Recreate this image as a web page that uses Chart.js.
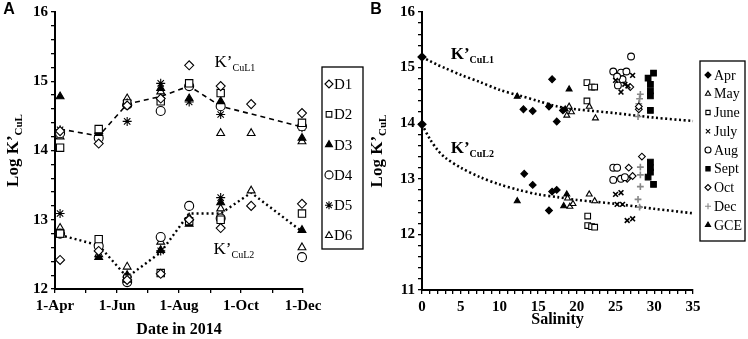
<!DOCTYPE html>
<html lang="en">
<head>
<meta charset="UTF-8">
<title>Log K'CuL by date and salinity</title>
<script src="https://cdn.jsdelivr.net/npm/chart.js"></script>
<style>
  body { margin: 0; background: #fff; }
  .wrap { position: relative; width: 748px; height: 339px; }
  #chartA { position: absolute; left: 0; top: 0; }
  #chartB { position: absolute; left: 366px; top: 0; }
</style>
</head>
<body>
<div class="wrap">
  <canvas id="chartA" width="366" height="339"></canvas>
  <canvas id="chartB" width="382" height="339"></canvas>
</div>
<script>
// ---- Panel A: sampling dates (days after 1 April 2014) ----
const sampleDays = [5, 43, 71, 104, 132, 163, 193, 243];
const monthTicks = [0, 30, 61, 91, 122, 153, 183, 214, 244];
const monthLabels = ['1-Apr', '', '1-Jun', '', '1-Aug', '', '1-Oct', '', '1-Dec'];
const depthNames = ['D1', 'D2', 'D3', 'D4', 'D5', 'D6'];

// log K'CuL1 per depth
const L1_D1 = [14.28, 14.10, 14.65, 14.75, 15.23, 14.93, 14.67, 14.54];
const L1_D2 = [14.04, 14.31, 14.68, 14.71, 14.97, 14.83, null, 14.40];
const L1_D3 = [14.78, 14.25, 14.68, 14.90, 14.75, 14.71, null, 14.18];
const L1_D4 = [14.25, 14.18, 14.66, 14.57, 14.93, 14.64, null, 14.35];
const L1_D5 = [14.30, 14.22, 14.42, 14.97, 14.70, 14.52, null, 14.33];
const L1_D6 = [14.20, 14.28, 14.75, 14.85, 14.95, 14.25, 14.25, 14.13];
// log K'CuL2 per depth
const L2_D1 = [12.42, 12.55, 12.13, 12.22, 13.00, 12.88, 13.20, 13.23];
const L2_D2 = [12.80, 12.72, 12.15, 12.23, 12.98, 13.00, null, 13.09];
const L2_D3 = [12.78, 12.46, 12.20, 12.56, 12.94, 13.25, null, 12.85];
const L2_D4 = [12.80, 12.62, 12.10, 12.75, 13.20, 13.02, null, 12.46];
const L2_D5 = [13.09, 12.65, 12.18, 12.55, 13.20, 13.32, null, 12.46];
const L2_D6 = [12.88, 12.50, 12.32, 12.68, 13.03, 13.16, 13.42, 12.60];

// trend lines
const meanL1Days = [5, 43, 71, 104, 132, 163, 243];
const meanL1 = [14.31, 14.21, 14.67, 14.78, 14.93, 14.64, 14.34];
const meanL2 = [12.78, 12.63, 12.17, 12.53, 13.09, 13.09, 13.39, 12.83];

// ---- Panel B: salinity vs log K' ----
const aprSal = [13.1, 14.3, 16.8, 16.4, 17.4, 18.2, 13.2, 14.3, 16.8, 17.4, 16.4];
const aprK   = [14.25, 14.22, 14.79, 14.30, 14.03, 14.23, 13.09, 12.89, 12.77, 12.80, 12.43];
const maySal = [19.0, 18.7, 19.3, 21.6, 22.4, 18.8, 19.1, 19.5, 21.6, 22.3];
const mayK   = [14.30, 14.14, 14.20, 14.30, 14.09, 12.65, 12.50, 12.55, 12.72, 12.60];
const junSal = [21.3, 21.9, 22.3, 21.3, 21.4, 21.4, 21.9, 22.3];
const junK   = [14.73, 14.65, 14.65, 14.40, 12.33, 12.16, 12.14, 12.13];
const julSal = [27.2, 25.7, 26.2, 25.0, 26.6, 25.0, 25.7, 25.2, 25.9, 26.5, 27.2];
const julK   = [14.86, 14.56, 14.70, 14.77, 14.67, 12.72, 12.75, 12.54, 12.54, 12.25, 12.28];
const augSal = [27.0, 24.7, 25.7, 26.4, 25.3, 25.9, 25.2, 24.7, 25.2, 24.7, 25.7, 26.2];
const augK   = [15.20, 14.93, 14.91, 14.93, 14.68, 14.79, 14.84, 13.20, 13.20, 12.98, 13.00, 13.03];
const sepSal = [29.9, 29.2, 29.5, 29.5, 29.5, 29.5, 29.5, 29.5, 29.5, 29.2, 29.9];
const sepK   = [14.90, 14.81, 14.70, 14.58, 14.49, 14.23, 13.30, 13.20, 13.12, 13.03, 12.90];
const octSal = [26.9, 28.0, 28.0, 26.7, 28.4, 27.2, 26.5];
const octK   = [14.65, 14.25, 14.30, 13.20, 13.40, 13.05, 13.00];
const decSal = [28.2, 28.1, 28.0, 27.9, 28.2, 28.2, 28.2, 27.9, 28.1];
const decK   = [14.52, 14.44, 14.35, 14.12, 13.21, 13.07, 12.86, 12.63, 12.49];
const gceSal = [12.3, 19.0, 18.5, 12.3, 18.3, 18.7];
const gceK   = [14.48, 14.61, 14.25, 12.60, 12.51, 12.72];

// fitted curves
const curveSal = [0, 1, 2, 3, 5, 7.5, 10, 12.5, 15, 17.5, 20, 25, 30, 35];
const fitL1 = [15.19, 15.12, 15.05, 14.99, 14.87, 14.74, 14.60, 14.50, 14.40, 14.30, 14.25, 14.18, 14.10, 14.04];
const fitL2 = [13.98, 13.72, 13.52, 13.38, 13.20, 13.03, 12.90, 12.80, 12.72, 12.67, 12.62, 12.55, 12.46, 12.38];

const serif = '"Liberation Serif", "Times New Roman", serif';
const tickFont = { family: serif, size: 15, weight: 'bold' };

function zipXY(xs, ys) {
  return xs.map((x, i) => ({ x: x, y: ys[i] })).filter(p => p.y !== null);
}

// legend with a frame, drawn from the datasets flagged inLegend
const boxLegend = {
  id: 'boxLegend',
  afterDraw(chart, args, o) {
    const ctx = chart.ctx;
    const items = chart.data.datasets.filter(d => d.inLegend);
    ctx.save();
    ctx.strokeStyle = '#000';
    ctx.lineWidth = 1.3;
    ctx.strokeRect(o.x, o.y, o.w, o.h);
    items.forEach((d, i) => {
      const cy = o.first + i * o.gap;
      ctx.strokeStyle = d.borderColor;
      ctx.fillStyle = d.backgroundColor;
      ctx.lineWidth = 1.1;
      Chart.helpers.drawPoint(ctx, { pointStyle: d.pointStyle, radius: o.radius, borderWidth: 1.1, rotation: 0 }, o.x + o.px, cy);
      ctx.fillStyle = '#000';
      ctx.font = o.font;
      ctx.textBaseline = 'middle';
      ctx.textAlign = 'left';
      ctx.fillText(d.label, o.x + o.tx, cy + 1);
    });
    ctx.restore();
  }
};

function drawSub(ctx, x, y, main, sub, mainFont, subFont, drop) {
  ctx.font = mainFont;
  const w1 = ctx.measureText(main).width;
  ctx.font = subFont;
  const w2 = ctx.measureText(sub).width;
  const x0 = x - (w1 + w2) / 2;
  ctx.textAlign = 'left';
  ctx.textBaseline = 'alphabetic';
  ctx.font = mainFont;
  ctx.fillText(main, x0, y);
  ctx.font = subFont;
  ctx.fillText(sub, x0 + w1, y + drop);
}

// K' labels inside the plot, axis titles and panel letter
const texts = {
  id: 'texts',
  afterDraw(chart, args, o) {
    const ctx = chart.ctx;
    const a = chart.chartArea;
    ctx.save();
    ctx.fillStyle = '#000';
    o.inPlot.forEach(t => {
      const x = chart.scales.x.getPixelForValue(t.at[0]);
      const y = chart.scales.y.getPixelForValue(t.at[1]);
      drawSub(ctx, x, y, 'K\u2019', t.sub, o.labelWeight + ' 17px ' + serif, o.labelWeight + ' 10px ' + serif, 4);
    });
    // y title
    ctx.save();
    ctx.translate(o.yTitleX, (a.top + a.bottom) / 2);
    ctx.rotate(-Math.PI / 2);
    drawSub(ctx, 0, 6, 'Log K\u2019', 'CuL', 'bold 17px ' + serif, 'bold 11px ' + serif, 4);
    ctx.restore();
    // x title
    ctx.font = 'bold 16px ' + serif;
    ctx.textAlign = 'center';
    ctx.textBaseline = 'middle';
    ctx.fillText(o.xTitle, (a.left + a.right) / 2, o.xTitleY);
    // panel letter
    ctx.font = 'bold 16px "Liberation Sans", Arial, sans-serif';
    ctx.fillText(o.letter, o.letterX, 10);
    ctx.restore();
  }
};

function yTicks(min, max) {
  return {
    min: min, max: max,
    afterFit: s => { s.width = s.chart.canvas.id === 'chartA' ? 55 : 56; },
    ticks: {
      stepSize: 0.2, autoSkip: false, color: '#000', font: tickFont, padding: 3,
      callback: v => Math.abs(v - Math.round(v)) < 1e-6 ? Math.round(v) : ''
    },
    grid: { drawOnChartArea: false, tickLength: 4, color: '#000', lineWidth: 1.3 },
    border: { color: '#000', width: 2 }
  };
}

// ---- chart A ----
const depthL1 = [L1_D1, L1_D2, L1_D3, L1_D4, L1_D5, L1_D6];
const depthL2 = [L2_D1, L2_D2, L2_D3, L2_D4, L2_D5, L2_D6];
const depthStyle = [
  ['rectRot', '#fff'], ['rect', '#fff'], ['triangle', '#000'],
  ['circle', '#fff'], ['star', '#000'], ['triangle', '#fff']
];
const setsA = depthNames.map((name, k) => ({
  label: name,
  inLegend: true,
  data: zipXY(sampleDays, depthL1[k]).concat(zipXY(sampleDays, depthL2[k])),
  pointStyle: depthStyle[k][0],
  backgroundColor: depthStyle[k][1],
  borderColor: '#000',
  pointRadius: depthStyle[k][0] === 'rect' ? 5.2 : 4.5,
  borderWidth: 1.1,
  showLine: false,
  clip: false
}));
setsA.push({
  label: 'mean L1', data: zipXY(meanL1Days, meanL1), showLine: true, pointRadius: 0,
  borderColor: '#000', borderWidth: 1.6, borderDash: [5, 4], order: 10, clip: false
});
setsA.push({
  label: 'mean L2', data: zipXY(sampleDays, meanL2), showLine: true, pointRadius: 0,
  borderColor: '#000', borderWidth: 2.4, borderDash: [2, 3], order: 10, clip: false
});

new Chart(document.getElementById('chartA'), {
  type: 'scatter',
  data: { datasets: setsA },
  plugins: [boxLegend, texts],
  options: {
    responsive: false,
    animation: false,
    layout: { padding: { top: 10, right: 63, bottom: 0, left: 0 } },
    plugins: {
      legend: { display: false },
      tooltip: { enabled: false },
      boxLegend: { x: 322, y: 67, w: 41, h: 182, first: 84, gap: 30.3, px: 7, tx: 12, radius: 4, font: '15px ' + serif },
      texts: {
        inPlot: [{ at: [177, 15.2], sub: 'CuL1' }, { at: [176, 12.5], sub: 'CuL2' }],
        labelWeight: 'normal',
        yTitleX: 12, xTitle: 'Date in 2014', xTitleY: 330, letter: 'A', letterX: 9
      }
    },
    scales: {
      x: {
        type: 'linear', min: 0, max: 244,
        afterBuildTicks: s => { s.ticks = monthTicks.map(v => ({ value: v })); },
        afterFit: s => { s.height = 50; },
        ticks: { autoSkip: false, maxRotation: 0, color: '#000', font: tickFont, padding: 4,
                 callback: (v, i) => monthLabels[i] },
        grid: { drawOnChartArea: false, tickLength: 4, color: '#000', lineWidth: 1.3 },
        border: { color: '#000', width: 2 }
      },
      y: yTicks(12, 16)
    }
  }
});

// ---- chart B ----
const monthSets = [
  ['Apr', aprSal, aprK, 'rectRot', '#000', '#000'],
  ['May', maySal, mayK, 'triangle', '#fff', '#000'],
  ['June', junSal, junK, 'rect', '#fff', '#000'],
  ['July', julSal, julK, 'crossRot', '#000', '#000'],
  ['Aug', augSal, augK, 'circle', '#fff', '#000'],
  ['Sept', sepSal, sepK, 'rect', '#000', '#000'],
  ['Oct', octSal, octK, 'rectRot', '#fff', '#000'],
  ['Dec', decSal, decK, 'cross', '#888', '#888'],
  ['GCE', gceSal, gceK, 'triangle', '#000', '#000']
];
const setsB = monthSets.map(m => ({
  label: m[0],
  inLegend: true,
  data: zipXY(m[1], m[2]),
  pointStyle: m[3],
  backgroundColor: m[4],
  borderColor: m[5],
  pointRadius: m[3] === 'rect' ? 4 : 3.4,
  borderWidth: m[3].startsWith('cross') ? 1.6 : 1.1,
  showLine: false,
  clip: false
}));
[fitL1, fitL2].forEach((fit, k) => setsB.push({
  label: 'fit L' + (k + 1), data: zipXY(curveSal, fit), showLine: true,
  pointStyle: 'rectRot', backgroundColor: '#000', borderColor: '#000',
  pointRadius: c => c.dataIndex === 0 ? 3 : 0,
  borderWidth: 2.6, borderDash: [2, 2.6], order: 10, clip: false, tension: 0.3
}));

new Chart(document.getElementById('chartB'), {
  type: 'scatter',
  data: { datasets: setsB },
  plugins: [boxLegend, texts],
  options: {
    responsive: false,
    animation: false,
    layout: { padding: { top: 10, right: 55, bottom: 0, left: 0 } },
    plugins: {
      legend: { display: false },
      tooltip: { enabled: false },
      boxLegend: { x: 334, y: 61, w: 45, h: 180, first: 75, gap: 18.75, px: 8, tx: 14, radius: 3, font: '14px ' + serif },
      texts: {
        inPlot: [{ at: [6.5, 15.15], sub: 'CuL1' }, { at: [6.5, 13.47], sub: 'CuL2' }],
        labelWeight: 'bold',
        yTitleX: 10, xTitle: 'Salinity', xTitleY: 320, letter: 'B', letterX: 10
      }
    },
    scales: {
      x: {
        type: 'linear', min: 0, max: 35,
        afterFit: s => { s.height = 49; },
        ticks: { stepSize: 1, autoSkip: false, maxRotation: 0, color: '#000', font: tickFont, padding: 4,
                 callback: v => v % 5 === 0 ? v : '' },
        grid: { drawOnChartArea: false, tickLength: 4, color: '#000', lineWidth: 1.3 },
        border: { color: '#000', width: 2 }
      },
      y: yTicks(11, 16)
    }
  }
});
</script>
</body>
</html>
